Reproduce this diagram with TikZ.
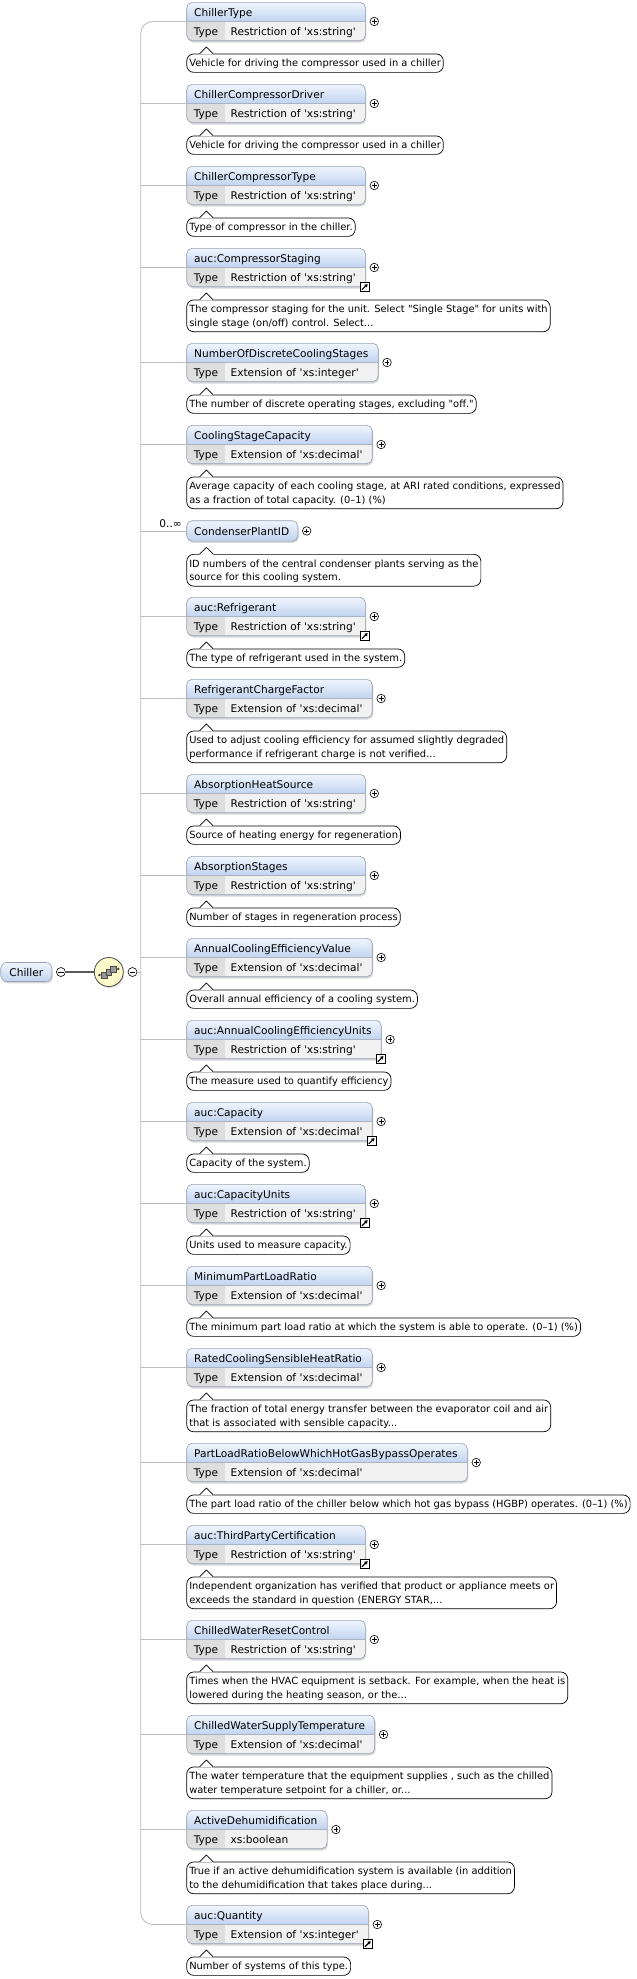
\documentclass[tikz,border=0pt]{standalone}
\usepackage{fontspec}
\setmainfont{DejaVu Sans}[Ligatures=TeXOff]
\usetikzlibrary{positioning,fit,backgrounds,shadows,arrows.meta}

\definecolor{headtop}{RGB}{240,245,253}
\definecolor{headbot}{RGB}{192,211,240}
\definecolor{boxline}{RGB}{150,160,178}
\definecolor{typerow}{RGB}{241,241,241}
\definecolor{typecell}{RGB}{222,222,222}
\definecolor{wire}{RGB}{188,188,188}
\definecolor{seqfill}{RGB}{255,250,202}

\newcommand{\elemfont}{\fontsize{10.6}{13}\selectfont}
\newcommand{\descfont}{\fontsize{9.9}{13.4}\selectfont}
\newcommand{\ds}{\vrule height 10.4pt depth 3pt width 0pt}

\tikzset{
  headtext/.style={anchor=north west, inner sep=0pt, minimum height=19pt,
    text height=10pt, text depth=1.5pt, font=\elemfont},
  typelabel/.style={anchor=north west, inner sep=0pt, minimum height=19pt,
    minimum width=38.3pt, text height=10pt, text depth=1.5pt, font=\elemfont},
  typetext/.style={inner sep=0pt, minimum height=19pt,
    text height=10pt, text depth=1.5pt, font=\elemfont},
  elembox/.style={draw=boxline, line width=.6pt, rounded corners=5.5pt, inner sep=0pt,
    drop shadow={shadow xshift=1pt, shadow yshift=-1.8pt, opacity=.3},
    path picture={
      \fill[typerow, sharp corners] (path picture bounding box.south west) rectangle ([yshift=19pt]path picture bounding box.south east);
      \fill[typecell, sharp corners] (path picture bounding box.south west) rectangle (#1.north east);
      \shade[top color=headtop, bottom color=headbot, sharp corners] (path picture bounding box.north west) rectangle ([yshift=19pt]path picture bounding box.south east);
      \draw[boxline!80, line width=.5pt] ([yshift=19pt]path picture bounding box.south west) -- ([yshift=19pt]path picture bounding box.south east);
    }},
  refbox/.style={draw=boxline, line width=.6pt, rounded corners=5.5pt, inner sep=0pt,
    top color=headtop, bottom color=headbot,
    drop shadow={shadow xshift=1pt, shadow yshift=-1.8pt, opacity=.3}},
  rootbox/.style={draw=boxline, line width=.6pt, rounded corners=6pt, inner sep=0pt,
    minimum width=51pt, minimum height=19pt, text height=10pt, text depth=1.5pt,
    top color=headtop, bottom color=headbot, font=\elemfont,
    drop shadow={shadow xshift=1pt, shadow yshift=-1.8pt, opacity=.3}},
  seqbox/.style={circle, draw=black!70, line width=.8pt, fill=seqfill, minimum size=29pt,
    inner sep=0pt, drop shadow={shadow xshift=1pt, shadow yshift=-1.5pt, opacity=.25}},
  descbox/.style={anchor=north west, draw=black, line width=.7pt, fill=white,
    rounded corners=7pt, inner xsep=2.5pt, inner ysep=2.5pt, align=left, font=\descfont},
  descline/.style={draw=black, line width=.7pt},
  plusmark/.style={circle, draw=black, fill=white, line width=.6pt, minimum size=8.5pt, inner sep=0pt,
    path picture={\draw[line width=.7pt]
      ([xshift=-2.4pt]path picture bounding box.center) -- ([xshift=2.4pt]path picture bounding box.center)
      ([yshift=-2.4pt]path picture bounding box.center) -- ([yshift=2.4pt]path picture bounding box.center);}},
  minusmark/.style={circle, draw=black, fill=white, line width=.6pt, minimum size=9pt, inner sep=0pt,
    path picture={\draw[line width=.7pt]
      ([xshift=-2.6pt]path picture bounding box.center) -- ([xshift=2.6pt]path picture bounding box.center);}},
  linkmark/.style={rectangle, draw=black, fill=white, line width=.6pt, minimum size=9pt, inner sep=0pt,
    path picture={\draw[-{Triangle[length=3pt,width=3.6pt]}, line width=1.1pt]
      ([shift={(-2.8pt,-2.8pt)}]path picture bounding box.center) -- ([shift={(2.9pt,2.9pt)}]path picture bounding box.center);}},
  branch/.style={draw=wire, line width=.8pt},
  rootline/.style={draw=black!65, line width=1.4pt},
  seqwire/.style={draw=black!75, line width=.6pt},
  seqsq/.style={draw=black!70, fill=black!40, line width=.5pt}
}

% one child element: name, top, header, type, description
\newcommand{\Notch}[1]{%
  \fill[white] ([xshift=13pt,yshift=-.8pt]#1.north west) -- ([xshift=20pt,yshift=6.6pt]#1.north west) -- ([xshift=27pt,yshift=-.8pt]#1.north west) -- cycle;
  \draw[descline] ([xshift=13.3pt]#1.north west) -- ([xshift=20pt,yshift=6.6pt]#1.north west) -- ([xshift=26.7pt]#1.north west);}
\newcommand{\Elem}[5]{%
  \coordinate (#1-c) at (186.7,#2);
  \node[headtext] (#1-h) at ([xshift=7.3pt]#1-c) {#3};
  \node[typelabel] (#1-t) at ([yshift=-19pt]#1-c) {Type};
  \node[typetext, right=5pt of #1-t] (#1-v) {#4};
  \begin{scope}[on background layer]
    \node[elembox=#1-t, fit={(#1-c) (#1-t) ([xshift=9.5pt]#1-h.east) ([xshift=9.5pt]#1-v.east)}] (#1) {};
  \end{scope}
  \node[plusmark, right=4pt of #1] (#1-p) {};
  \node[descbox] (#1-d) at ([yshift=-12.6pt]#1.south west) {\ds #5};
  \Notch{#1-d}}
\newcommand{\LinkMark}[1]{\node[linkmark] (#1-l) at ([xshift=-1pt]#1.south east) {};}

\begin{document}
\begin{tikzpicture}[x=1pt,y=-1pt]
\begin{scope}[on background layer]
  \fill[white] (0,0) rectangle (637,1979);
\end{scope}
\useasboundingbox (0,0) rectangle (637,1979);

\node[rootbox] (chiller) at (26.3,972) {Chiller};
\node[minusmark, right=4pt of chiller] (chiller-m) {};
\node[seqbox] (seq) at (108.8,972) {};
\node[minusmark, right=4pt of seq] (seq-m) {};
\draw[rootline] (chiller-m) -- (seq);
\begin{scope}[shift={(seq)}, x=1pt, y=1pt]
  \draw[seqwire] (-9.5,-3) -- (-4.5,-3) -- (0,0) -- (4.5,3) -- (9.5,3);
  \fill[black!75] (-9.5,-3) circle (1.3) (9.5,3) circle (1.3);
  \filldraw[seqsq] (-7.3,-5.8) rectangle (-1.7,-0.2);
  \filldraw[seqsq] (-2.8,-2.8) rectangle (2.8,2.8);
  \filldraw[seqsq] (1.7,0.2) rectangle (7.3,5.8);
\end{scope}
\coordinate (trunk) at (140.7,972);

\Elem{ctype}{2.3}{ChillerType}{Restriction of 'xs:string'}{Vehicle for driving the compressor used in a chiller}
\Elem{cdriver}{84.3}{ChillerCompressorDriver}{Restriction of 'xs:string'}{Vehicle for driving the compressor used in a chiller}
\Elem{ccomp}{166.3}{ChillerCompressorType}{Restriction of 'xs:string'}{Type of compressor in the chiller.}
\Elem{staging}{248.3}{auc:CompressorStaging}{Restriction of 'xs:string'}{The compressor staging for the unit. Select "Single Stage" for units with\\\ds single stage (on/off) control. Select...}
\Elem{nstages}{343.3}{NumberOfDiscreteCoolingStages}{Extension of 'xs:integer'}{The number of discrete operating stages, excluding "off."}
\Elem{stagecap}{425.3}{CoolingStageCapacity}{Extension of 'xs:decimal'}{Average capacity of each cooling stage, at ARI rated conditions, expressed\\\ds as a fraction of total capacity. (0–1) (\%)}

% reference without type row
\coordinate (plant-c) at (186.7,520.7);
\node[headtext, minimum height=20pt] (plant-h) at ([xshift=7.3pt]plant-c) {CondenserPlantID};
\begin{scope}[on background layer]
  \node[refbox, fit={(plant-c) (plant-h) ([xshift=8.5pt]plant-h.east)}] (plant) {};
\end{scope}
\node[plusmark, right=4pt of plant] (plant-p) {};
\node[anchor=east, inner sep=0pt, font=\elemfont] (plant-n) at (182,524) {0..∞};
\node[descbox] (plant-d) at ([yshift=-12.6pt]plant.south west) {\ds ID numbers of the central condenser plants serving as the\\\ds source for this cooling system.};
\Notch{plant-d}

\Elem{refrig}{597.3}{auc:Refrigerant}{Restriction of 'xs:string'}{The type of refrigerant used in the system.}
\Elem{charge}{679.3}{RefrigerantChargeFactor}{Extension of 'xs:decimal'}{Used to adjust cooling efficiency for assumed slightly degraded\\\ds performance if refrigerant charge is not verified...}
\Elem{heatsrc}{774.3}{AbsorptionHeatSource}{Restriction of 'xs:string'}{Source of heating energy for regeneration}
\Elem{absstages}{856.3}{AbsorptionStages}{Restriction of 'xs:string'}{Number of stages in regeneration process}
\Elem{effval}{938.3}{AnnualCoolingEfficiencyValue}{Extension of 'xs:decimal'}{Overall annual efficiency of a cooling system.}
\Elem{effunits}{1020.3}{auc:AnnualCoolingEfficiencyUnits}{Restriction of 'xs:string'}{The measure used to quantify efficiency}
\Elem{cap}{1102.3}{auc:Capacity}{Extension of 'xs:decimal'}{Capacity of the system.}
\Elem{capunits}{1184.3}{auc:CapacityUnits}{Restriction of 'xs:string'}{Units used to measure capacity.}
\Elem{minplr}{1266.3}{MinimumPartLoadRatio}{Extension of 'xs:decimal'}{The minimum part load ratio at which the system is able to operate. (0–1) (\%)}
\Elem{shr}{1348.3}{RatedCoolingSensibleHeatRatio}{Extension of 'xs:decimal'}{The fraction of total energy transfer between the evaporator coil and air\\\ds that is associated with sensible capacity...}
\Elem{hgbp}{1443.3}{PartLoadRatioBelowWhichHotGasBypassOperates}{Extension of 'xs:decimal'}{The part load ratio of the chiller below which hot gas bypass (HGBP) operates. (0–1) (\%)}
\Elem{cert}{1525.3}{auc:ThirdPartyCertification}{Restriction of 'xs:string'}{Independent organization has verified that product or appliance meets or\\\ds exceeds the standard in question (ENERGY STAR,...}
\Elem{reset}{1620.3}{ChilledWaterResetControl}{Restriction of 'xs:string'}{Times when the HVAC equipment is setback. For example, when the heat is\\\ds lowered during the heating season, or the...}
\Elem{supply}{1715.3}{ChilledWaterSupplyTemperature}{Extension of 'xs:decimal'}{The water temperature that the equipment supplies , such as the chilled\\\ds water temperature setpoint for a chiller, or...}
\Elem{dehum}{1810.3}{ActiveDehumidification}{xs:boolean}{True if an active dehumidification system is available (in addition\\\ds to the dehumidification that takes place during...}
\Elem{qty}{1905.3}{auc:Quantity}{Extension of 'xs:integer'}{Number of systems of this type.}

\LinkMark{staging}
\LinkMark{refrig}
\LinkMark{effunits}
\LinkMark{cap}
\LinkMark{capunits}
\LinkMark{cert}
\LinkMark{qty}

% connectors
\draw[branch, rounded corners=12pt] (ctype.west) -- (ctype.west -| trunk) -- (qty.west -| trunk) -- (qty.west);
\draw[branch] (seq-m) -- (seq-m -| trunk);
\draw[branch] (cdriver.west -| trunk) -- (cdriver.west);
\draw[branch] (ccomp.west -| trunk) -- (ccomp.west);
\draw[branch] (staging.west -| trunk) -- (staging.west);
\draw[branch] (nstages.west -| trunk) -- (nstages.west);
\draw[branch] (stagecap.west -| trunk) -- (stagecap.west);
\draw[branch] (plant.west -| trunk) -- (plant.west);
\draw[branch] (refrig.west -| trunk) -- (refrig.west);
\draw[branch] (charge.west -| trunk) -- (charge.west);
\draw[branch] (heatsrc.west -| trunk) -- (heatsrc.west);
\draw[branch] (absstages.west -| trunk) -- (absstages.west);
\draw[branch] (effval.west -| trunk) -- (effval.west);
\draw[branch] (effunits.west -| trunk) -- (effunits.west);
\draw[branch] (cap.west -| trunk) -- (cap.west);
\draw[branch] (capunits.west -| trunk) -- (capunits.west);
\draw[branch] (minplr.west -| trunk) -- (minplr.west);
\draw[branch] (shr.west -| trunk) -- (shr.west);
\draw[branch] (hgbp.west -| trunk) -- (hgbp.west);
\draw[branch] (cert.west -| trunk) -- (cert.west);
\draw[branch] (reset.west -| trunk) -- (reset.west);
\draw[branch] (supply.west -| trunk) -- (supply.west);
\draw[branch] (dehum.west -| trunk) -- (dehum.west);
\end{tikzpicture}
\end{document}
